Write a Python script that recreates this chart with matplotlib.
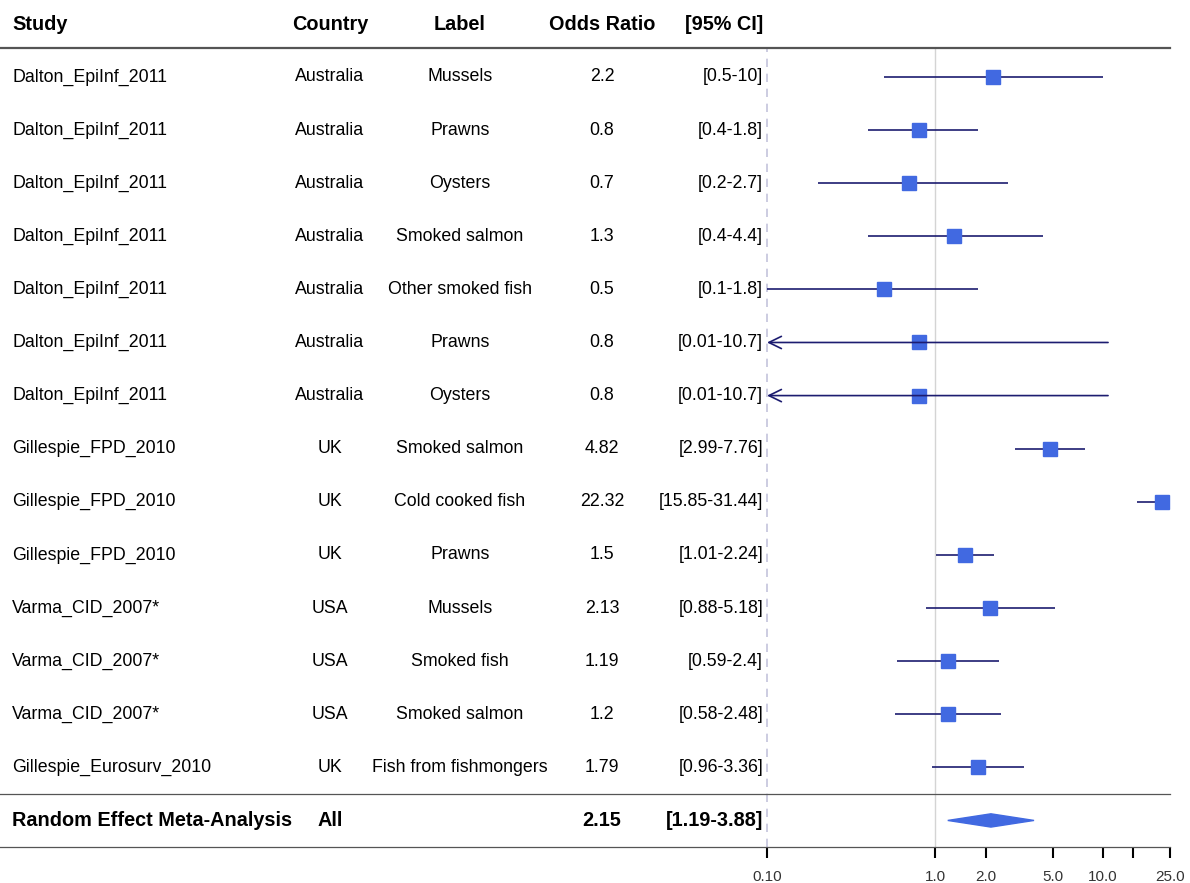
import matplotlib.pyplot as plt
import matplotlib.transforms as mtransforms
from matplotlib.patches import Polygon

# Data
studies = ['Dalton_EpiInf_2011'] * 7 + ['Gillespie_FPD_2010'] * 3 + ['Varma_CID_2007*'] * 3 + ['Gillespie_Eurosurv_2010']
countries = ['Australia'] * 7 + ['UK'] * 3 + ['USA'] * 3 + ['UK']
labels = ['Mussels', 'Prawns', 'Oysters', 'Smoked salmon', 'Other smoked fish', 'Prawns', 'Oysters',
          'Smoked salmon', 'Cold cooked fish', 'Prawns', 'Mussels', 'Smoked fish', 'Smoked salmon',
          'Fish from fishmongers']
odds = [2.2, 0.8, 0.7, 1.3, 0.5, 0.8, 0.8, 4.82, 22.32, 1.5, 2.13, 1.19, 1.2, 1.79]
ci_lo = [0.5, 0.4, 0.2, 0.4, 0.1, 0.01, 0.01, 2.99, 15.85, 1.01, 0.88, 0.59, 0.58, 0.96]
ci_hi = [10, 1.8, 2.7, 4.4, 1.8, 10.7, 10.7, 7.76, 31.44, 2.24, 5.18, 2.4, 2.48, 3.36]

summary_label = 'Random Effect Meta-Analysis'
summary_country = 'All'
summary_or = 2.15
summary_lo = 1.19
summary_hi = 3.88

xticks = [0.1, 1.0, 2.0, 5.0, 10.0, 15.0, 25.0]
xtick_labels = ['0.10', '1.0', '2.0', '5.0', '10.0', '', '25.0']
xmin, xmax = 0.1, 25.0

plt.rcParams['font.family'] = ['Liberation Sans', 'DejaVu Sans']

W, H = 1190, 883
fig = plt.figure(figsize=(W / 100, H / 100), dpi=100)
ax = fig.add_axes([767 / W, 1 - 847 / H, (1170 - 767) / W, (847 - 48) / H])
ax.set_xscale('log')
ax.set_xlim(xmin, xmax)
ax.set_ylim(14.5, -0.545)
for s in ax.spines.values():
    s.set_visible(False)
ax.set_yticks([])
ax.set_xticks(xticks)
ax.set_xticklabels(xtick_labels)
ax.minorticks_off()
ax.tick_params(axis='x', direction='out', length=8, width=1.5, pad=8.5, labelsize=11, labelcolor='#333333')

box_c = '#4169E1'
line_c = '#1c1c70'

# reference lines
ax.axvline(1.0, color='#d4d4d4', lw=1.0, zorder=0)
ax.axvline(0.1, color='#c4c4dc', lw=1.2, ls=(0, (5, 4)), zorder=0, clip_on=False)

n = len(odds)
for i in range(n):
    lo = max(ci_lo[i], xmin)
    hi = min(ci_hi[i], xmax)
    if ci_lo[i] < xmin:
        ax.annotate('', xy=(xmin, i), xytext=(hi, i),
                    arrowprops=dict(arrowstyle='->,head_length=0.45,head_width=0.22', color=line_c, lw=1.2,
                                    mutation_scale=20, shrinkA=0, shrinkB=0))
    else:
        ax.plot([lo, hi], [i, i], color=line_c, lw=1.2, solid_capstyle='butt')
    ax.plot(odds[i], i, marker='s', ms=10.5, color=box_c, mec=box_c, clip_on=False)

# summary diamond
ys = n
h = 0.125
ax.add_patch(Polygon([(summary_lo, ys), (summary_or, ys - h), (summary_hi, ys), (summary_or, ys + h)],
                     closed=True, color=box_c))

# table text
tr = mtransforms.blended_transform_factory(fig.transFigure, ax.transData)
fs = 12.8
fsb = 14.3
col_study = 12 / W
col_country = 330 / W
col_label = 460 / W
col_or = 602 / W
col_ci = 763 / W

headers = [('Study', col_study, 'left'), ('Country', col_country, 'center'), ('Label', col_label, 'center'),
           ('Odds Ratio', col_or, 'center'), ('[95% CI]', col_ci, 'right')]
for txt, x, ha in headers:
    ax.text(x, -0.98, txt, transform=tr, ha=ha, va='center', fontsize=fsb, fontweight='bold')

for i in range(n):
    ax.text(col_study, i, studies[i], transform=tr, ha='left', va='center', fontsize=fs)
    ax.text(col_country, i, countries[i], transform=tr, ha='center', va='center', fontsize=fs)
    ax.text(col_label, i, labels[i], transform=tr, ha='center', va='center', fontsize=fs)
    ax.text(col_or, i, f'{odds[i]:g}', transform=tr, ha='center', va='center', fontsize=fs)
    ax.text(col_ci, i, f'[{ci_lo[i]:g}-{ci_hi[i]:g}]', transform=tr, ha='right', va='center', fontsize=fs)

ax.text(col_study, ys, summary_label, transform=tr, ha='left', va='center', fontsize=fsb, fontweight='bold')
ax.text(col_country, ys, summary_country, transform=tr, ha='center', va='center', fontsize=fsb, fontweight='bold')
ax.text(col_or, ys, f'{summary_or:g}', transform=tr, ha='center', va='center', fontsize=fsb, fontweight='bold')
ax.text(col_ci, ys, f'[{summary_lo:g}-{summary_hi:g}]', transform=tr, ha='right', va='center', fontsize=fsb,
        fontweight='bold')

# horizontal separators
x_end = 1170 / W
ax.plot([0, x_end], [-0.545, -0.545], transform=tr, color='#555555', lw=1.6, clip_on=False)
ax.plot([0, x_end], [n - 0.5, n - 0.5], transform=tr, color='#555555', lw=0.9, clip_on=False)
ax.plot([0, x_end], [n + 0.5, n + 0.5], transform=tr, color='#555555', lw=0.9, clip_on=False)

fig.savefig('out.png', dpi=100)
